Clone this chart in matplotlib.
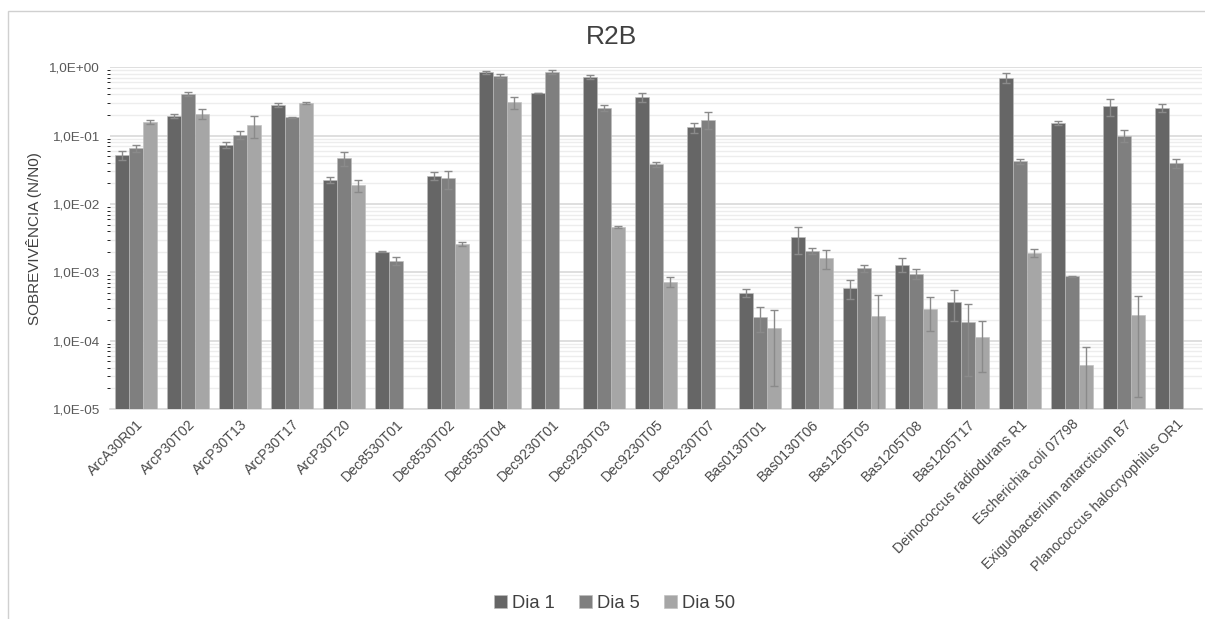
import numpy as np
import matplotlib
matplotlib.use('Agg')
import matplotlib.pyplot as plt
from matplotlib.patches import Rectangle

plt.rcParams['font.family'] = ['Liberation Sans', 'DejaVu Sans']

cepas = ['ArcA30R01', 'ArcP30T02', 'ArcP30T13', 'ArcP30T17', 'ArcP30T20',
         'Dec8530T01', 'Dec8530T02', 'Dec8530T04', 'Dec9230T01', 'Dec9230T03',
         'Dec9230T05', 'Dec9230T07', 'Bas0130T01', 'Bas0130T06', 'Bas1205T05',
         'Bas1205T08', 'Bas1205T17', 'Deinococcus radiodurans R1',
         'Escherichia coli 07798', 'Exiguobacterium antarcticum B7',
         'Planococcus halocryophilus OR1']

nan = np.nan
dia1 = [0.052, 0.194, 0.073, 0.281, 0.0226, 0.0020, 0.0256, 0.845, 0.42, 0.728,
        0.364, 0.132, 0.00050, 0.00324, 0.00058, 0.0013, 0.00037, 0.705,
        0.155, 0.271, 0.256]
dia5 = [0.065, 0.407, 0.103, 0.187, 0.0465, 0.00146, 0.0237, 0.738, 0.863, 0.256,
        0.0384, 0.171, 0.000219, 0.00204, 0.00116, 0.00095, 0.000188, 0.042,
        0.00087, 0.0998, 0.0393]
dia50 = [0.16, 0.21, 0.144, 0.30, 0.0187, nan, 0.00259, 0.307, nan, 0.00459,
         0.00072, nan, 0.000152, 0.0016, 0.000226, 0.000286, 0.000114, 0.00191,
         0.0000443, 0.000234, nan]

# desvio padrao
err1 = [0.008, 0.013, 0.007, 0.016, 0.0022, 0.00003, 0.0034, 0.045, 0.0, 0.052,
        0.056, 0.023, 0.00007, 0.00136, 0.00018, 0.0003, 0.000173, 0.125,
        0.010, 0.076, 0.037]
err5 = [0.008, 0.028, 0.013, 0.003, 0.0104, 0.00019, 0.0069, 0.052, 0.057, 0.025,
        0.0031, 0.048, 0.000087, 0.0002, 0.00014, 0.00016, 0.000158, 0.004,
        0.00001, 0.020, 0.0057]
err50 = [0.011, 0.033, 0.052, 0.010, 0.0039, nan, 0.00018, 0.064, nan, 0.0001,
         0.00012, nan, 0.00013, 0.00049, 0.000233, 0.000148, 0.000079, 0.00025,
         0.0000367, 0.000219, nan]

series = [('Dia 1', dia1, err1, '#666666'),
          ('Dia 5', dia5, err5, '#7f7f7f'),
          ('Dia 50', dia50, err50, '#a6a6a6')]

fig = plt.figure(figsize=(12.05, 6.19), dpi=100)
ax = fig.add_axes([0.0913, 0.3393, 0.9062, 0.552])

x = np.arange(len(cepas))
w = 0.273
for i, (nome, vals, errs, cor) in enumerate(series):
    ax.bar(x + (i - 1) * w, vals, w, color=cor, edgecolor='#bdbdbd',
           linewidth=0.4, label=nome, zorder=3)
    ax.errorbar(x + (i - 1) * w, vals, yerr=errs, fmt='none', ecolor='#8a8a8a',
                elinewidth=1, capsize=3, capthick=1, zorder=4)

ax.set_yscale('log')
ax.set_ylim(1e-5, 1)
ax.set_xlim(-0.5, len(cepas) - 0.5)
ax.set_yticks([1e-5, 1e-4, 1e-3, 1e-2, 1e-1, 1])
ax.set_yticklabels(['1,0E-05', '1,0E-04', '1,0E-03', '1,0E-02', '1,0E-01', '1,0E+00'],
                   fontsize=9.7, color='#595959')
ax.set_xticks(x)
ax.set_xticklabels(cepas, rotation=45, ha='right', va='top', rotation_mode='anchor',
                   fontsize=10.2, color='#4a4a4a')
ax.tick_params(axis='both', length=0)
ax.tick_params(axis='x', pad=6)
ax.tick_params(axis='y', pad=8)

ax.grid(True, which='major', axis='y', color='#d9d9d9', linewidth=1.2, zorder=0)
ax.grid(True, which='minor', axis='y', color='#ededed', linewidth=1, zorder=0)
for s in ['top', 'right', 'left']:
    ax.spines[s].set_visible(False)
ax.spines['bottom'].set_color('#d9d9d9')
ax.spines['bottom'].set_linewidth(1.2)

ax.set_ylabel('SOBREVIVÊNCIA (N/N0)', fontsize=11, color='#404040')
ax.yaxis.set_label_coords(-0.0623, 0.5)
fig.text(0.5076, 1 - 37 / 619, 'R2B', ha='center', va='center', fontsize=19, color='#404040')

fig.legend(loc='center', bbox_to_anchor=(0.51, 1 - 603 / 619), bbox_transform=fig.transFigure,
           ncol=3, frameon=False, fontsize=13.2, handlelength=0.7, handleheight=0.7,
           handletextpad=0.3, columnspacing=1.3, labelcolor='#404040')

# moldura do grafico
fig.patches.append(Rectangle((8 / 1205, -0.1), 1.2, 1.1 - 11 / 619,
                             transform=fig.transFigure, fill=False,
                             edgecolor='#d0d0d0', linewidth=1))

fig.savefig('out.png', dpi=100)
